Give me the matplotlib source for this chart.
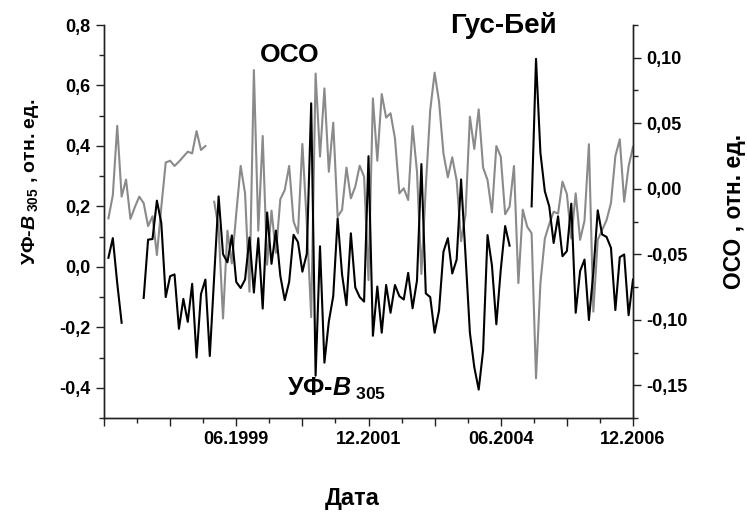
import numpy as np
import matplotlib
matplotlib.use("Agg")
import matplotlib.pyplot as plt
from matplotlib.ticker import MultipleLocator, FuncFormatter

plt.rcParams['font.family'] = ['Liberation Sans', 'DejaVu Sans']
plt.rcParams['font.weight'] = 'bold'
plt.rcParams['mathtext.fontset'] = 'custom'
plt.rcParams['mathtext.rm'] = 'Liberation Sans:bold'
plt.rcParams['mathtext.it'] = 'Liberation Sans:italic:bold'
plt.rcParams['mathtext.bf'] = 'Liberation Sans:bold'

nan = np.nan

# month index: 0 = 12.1996, 120 = 12.2006; data Jan 1997 .. Dec 2006
months = np.arange(1, 121)

# УФ-B305, отн. ед. (left axis)
uvb = [0.03, 0.095, -0.054, -0.185, nan, nan, nan, nan, -0.103, 0.09,
       0.092, 0.219, 0.145, -0.1, -0.031, -0.025, -0.205, -0.106, -0.182, -0.056,
       -0.30, -0.09, -0.042, -0.295, -0.03, 0.233, 0.042, 0.015, 0.104, -0.05,
       -0.07, -0.042, 0.097, -0.085, 0.095, -0.138, 0.18, 0.01, 0.12, -0.03,
       -0.11, -0.05, 0.106, 0.082, -0.016, 0.043, 0.541, -0.36, 0.068, -0.317,
       -0.181, -0.097, 0.16, -0.025, -0.127, 0.111, -0.068, -0.1, -0.115, 0.366,
       -0.228, -0.065, -0.218, -0.06, -0.152, -0.06, -0.097, -0.108, -0.02, -0.137,
       -0.045, 0.34, -0.088, -0.1, -0.218, -0.145, 0.05, 0.095, -0.022, 0.024,
       0.289, 0.04, -0.218, -0.332, -0.406, -0.276, 0.105, 0.005, -0.19, -0.01,
       0.135, 0.07, nan, nan, nan, nan, 0.2, 0.688, 0.377, 0.25,
       0.2, 0.079, 0.167, 0.035, 0.052, 0.209, -0.152, -0.014, 0.024, -0.176,
       -0.02, 0.187, 0.107, 0.099, 0.063, -0.143, 0.032, 0.041, -0.16, -0.042]

# ОСО, отн. ед. (right axis)
oco = [-0.0226, -0.005, 0.048, -0.006, 0.007, -0.023, -0.014, -0.006, -0.011, -0.0285,
       -0.021, -0.0506, -0.014, 0.020, 0.0214, 0.0174, 0.0207, 0.0245, 0.0283, 0.027,
       0.044, 0.0296, 0.0326, nan, -0.0099, -0.03, -0.099, -0.032, -0.057, -0.019,
       0.0174, -0.0035, -0.0786, 0.0906, -0.032, 0.0403, -0.058, -0.0167, -0.049, -0.008,
       -0.001, 0.0174, -0.025, -0.034, 0.0342, -0.026, -0.098, 0.088, 0.0245, 0.0766,
       0.013, 0.0504, -0.0213, -0.0162, 0.0161, -0.0073, 0.0016, 0.0176, 0.0092, -0.0697,
       0.069, 0.0214, 0.0723, 0.0543, 0.0576, 0.0385, -0.0035, 0.0003, -0.0086, 0.0479,
       0.013, -0.065, 0.0016, 0.060, 0.0886, 0.0665, 0.027, 0.0087, 0.024, 0.0062,
       -0.040, -0.02, 0.055, 0.0304, 0.0606, 0.0161, 0.0067, -0.018, 0.0326, 0.0245,
       -0.0195, -0.0137, 0.0174, -0.072, -0.016, -0.029, -0.034, -0.1447, -0.072, -0.038,
       -0.027, -0.0175, -0.019, 0.0054, -0.004, -0.038, -0.0035, -0.039, -0.0244, 0.034,
       -0.0938, -0.039, -0.0315, -0.024, -0.011, 0.025, 0.0377, -0.0099, 0.017, 0.032]

x_labels = {30: "06.1999", 60: "12.2001", 90: "06.2004", 120: "12.2006"}


def comma(fmt):
    def f(v, pos):
        if abs(v) < 1e-9:
            v = 0.0
        return fmt.format(v).replace('.', ',')
    return FuncFormatter(f)


fig = plt.figure(figsize=(7.47, 5.12), dpi=100)
ax = fig.add_axes([104 / 747, 1 - 418 / 512, 529 / 747, 393 / 512])
ax2 = ax.twinx()

ax2.plot(months, oco, color='#8a8a8a', lw=1.5)
ax.plot(months, uvb, color='black', lw=1.5)
ax.set_zorder(ax2.get_zorder() + 1)
ax.patch.set_visible(False)

ax.set_xlim(0, 120)
ax.set_ylim(-0.5, 0.8)
ax2.set_ylim(-0.175, 0.125)

for a in (ax, ax2):
    a.spines['top'].set_visible(False)
    for s in a.spines.values():
        s.set_linewidth(1.0)
        s.set_color('#222222')
    a.tick_params(which='major', direction='out', length=6, width=1.0, labelsize=13, color='#222222')
    a.tick_params(which='minor', direction='out', length=3.5, width=1.0, color='#222222')

ax.xaxis.set_major_locator(MultipleLocator(15))
ax.xaxis.set_minor_locator(MultipleLocator(7.5))
ax.xaxis.set_major_formatter(FuncFormatter(lambda v, p: x_labels.get(int(round(v)), "")))
ax.yaxis.set_major_locator(MultipleLocator(0.2))
ax.yaxis.set_minor_locator(MultipleLocator(0.1))
ax.yaxis.set_major_formatter(comma("{:.1f}"))
ax2.yaxis.set_major_locator(MultipleLocator(0.05))
ax2.yaxis.set_minor_locator(MultipleLocator(0.025))
ax2.yaxis.set_major_formatter(comma("{:.2f}"))

ax.set_xlabel("Дата", fontsize=17, fontweight='bold')
ax.xaxis.set_label_coords(0.47, -0.175)
ax.set_ylabel(r"УФ-$\mathit{B}_{\ \mathrm{305}}$ , отн. ед.", fontsize=14, fontweight='bold')
ax.yaxis.set_label_coords(-0.12, 0.6)
ax2.set_ylabel("ОСО , отн. ед.", fontsize=16.5, fontweight='bold')
ax2.yaxis.set_label_coords(1.17, 0.525)

ax.text(42.2, 0.70, "ОСО", fontsize=19, fontweight='bold', ha='center', va='center')
ax.text(90.7, 0.797, "Гус-Бей", fontsize=20, fontweight='bold', ha='center', va='center')
ax.text(41.5, -0.405, r"УФ-$\mathit{B}_{\ \mathrm{305}}$", fontsize=18, fontweight='bold',
        ha='left', va='center')

fig.savefig("out.png", dpi=100)
